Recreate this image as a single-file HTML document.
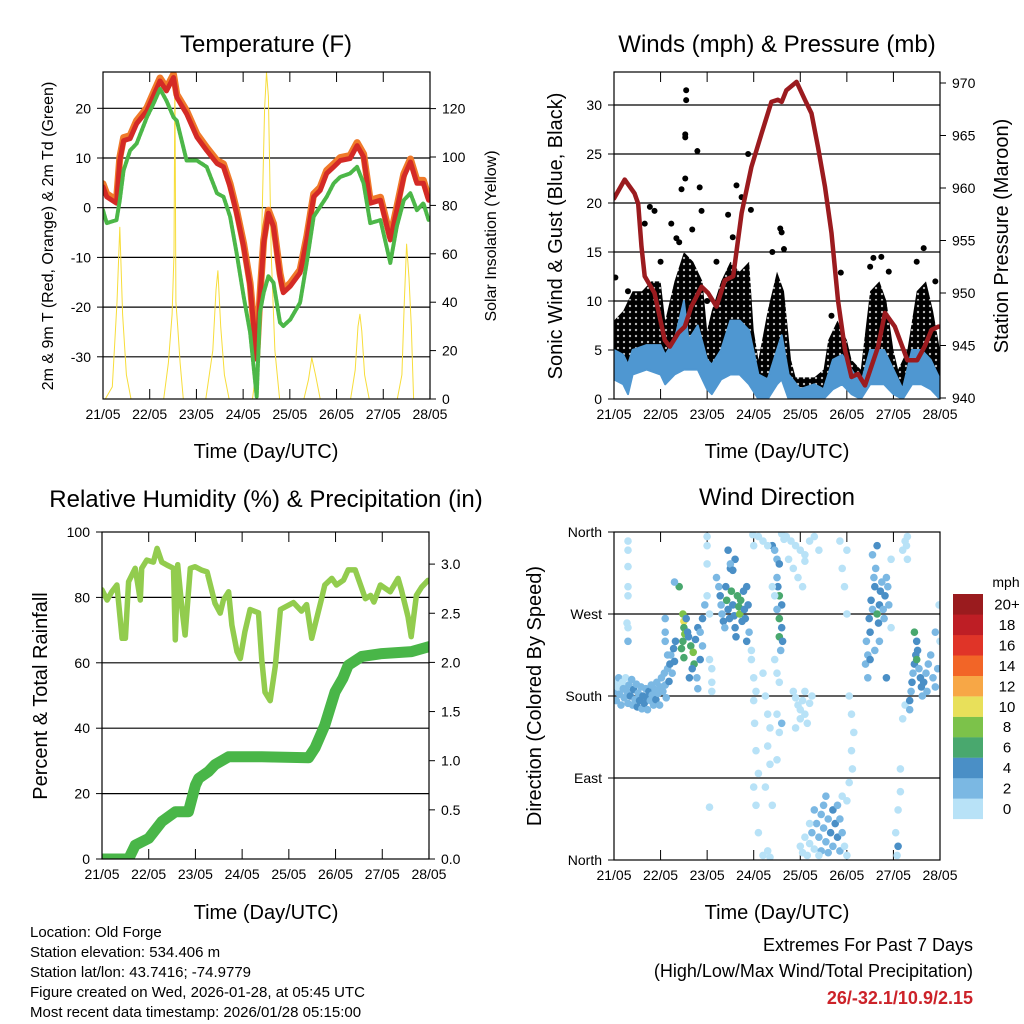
<!DOCTYPE html>
<html><head><meta charset="utf-8">
<style>
html,body{margin:0;padding:0;background:#fff;}
svg{display:block;font-family:"Liberation Sans",Arial,sans-serif;}
</style></head>
<body>
<svg id="chart" width="1024" height="1024" viewBox="0 0 1024 1024" xmlns="http://www.w3.org/2000/svg">
<defs>
<clipPath id="c1"><rect x="103" y="72" width="327" height="327"/></clipPath>
<clipPath id="c2"><rect x="614" y="72" width="326" height="327"/></clipPath>
<clipPath id="c3"><rect x="102" y="532" width="327" height="327"/></clipPath>
<clipPath id="c4"><rect x="614" y="532" width="326" height="328"/></clipPath>
<pattern id="dotfill" width="6" height="6" patternUnits="userSpaceOnUse"><circle cx="3" cy="3" r="3.4" fill="#000"/></pattern>
</defs>
<rect width="1024" height="1024" fill="#fff"/>
<g font-size="24" text-anchor="middle" fill="#000">
<text x="266" y="52">Temperature (F)</text>
<text x="777" y="52">Winds (mph) &amp; Pressure (mb)</text>
<text x="266" y="507">Relative Humidity (%) &amp; Precipitation (in)</text>
<text x="777" y="505">Wind Direction</text>
</g>
<g font-size="20" text-anchor="middle">
<text x="266" y="458">Time (Day/UTC)</text>
<text x="777" y="458">Time (Day/UTC)</text>
<text x="266" y="919">Time (Day/UTC)</text>
<text x="777" y="919">Time (Day/UTC)</text>
<text transform="translate(53,236) rotate(-90)" font-size="16">2m &amp; 9m T (Red, Orange) &amp; 2m Td (Green)</text>
<text transform="translate(496,236) rotate(-90)" font-size="16">Solar Insolation (Yellow)</text>
<text transform="translate(562,236) rotate(-90)">Sonic Wind &amp; Gust (Blue, Black)</text>
<text transform="translate(1008,236) rotate(-90)">Station Pressure (Maroon)</text>
<text transform="translate(47,696) rotate(-90)">Percent &amp; Total Rainfall</text>
<text transform="translate(541,696) rotate(-90)">Direction (Colored By Speed)</text>
</g>
<g font-size="15">
<text x="30" y="937">Location: Old Forge</text>
<text x="30" y="957">Station elevation: 534.406 m</text>
<text x="30" y="977">Station lat/lon: 43.7416; -74.9779</text>
<text x="30" y="997">Figure created on Wed, 2026-01-28, at 05:45 UTC</text>
<text x="30" y="1017">Most recent data timestamp: 2026/01/28 05:15:00</text>
</g>
<g font-size="18" text-anchor="end">
<text x="973" y="951">Extremes For Past 7 Days</text>
<text x="973" y="977">(High/Low/Max Wind/Total Precipitation)</text>
<text x="973" y="1004" fill="#cc2229" font-weight="bold">26/-32.1/10.9/2.15</text>
</g>
<g id="dyn"></g>
</svg>
<script>
// ---- data ----
const tempTimes=[0,0.08,0.29,0.36,0.44,0.58,0.72,0.94,1.08,1.22,1.36,1.51,1.58,1.79,2.01,2.22,2.44,2.58,2.72,2.86,3.01,3.15,3.29,3.36,3.44,3.54,3.65,3.79,3.86,4.01,4.22,4.36,4.51,4.65,4.79,4.94,5.08,5.29,5.44,5.58,5.72,5.94,6.15,6.29,6.44,6.58,6.72,6.86,6.97];
const tempRed=[4.2,2.2,0.9,9.5,13.5,13.9,16.9,19.5,22.5,25.5,23.5,26.2,22.2,18.9,14.2,11.5,8.9,8.2,4.2,-1.1,-7.8,-15.8,-30.5,-18.5,-7.1,-1.1,-3.8,-13.8,-17.1,-15.8,-13.1,-6.5,2.2,3.5,6.9,8.2,9.5,9.9,12.5,10.2,0.9,1.5,-6.5,-0.5,6.2,9.2,4.9,4.9,1.5];
const tempDew=[-0.5,-3.1,-2.5,1.5,7.5,11.5,12.9,18.2,20.9,23.9,21.5,18.2,17.5,9.5,9.5,8.2,2.9,2.2,-1.8,-9.1,-17.8,-25.1,-38,-21.1,-17.1,-13.8,-15.1,-23.1,-23.8,-22.5,-19.1,-11.1,-1.8,0.2,2.2,4.9,6.2,6.9,8.2,4.9,-3.1,-2.5,-11.1,-3.8,1.5,2.9,-0.5,0.9,-2.5];
const solarTimes=[0,0.05,0.2,0.3,0.36,0.42,0.5,0.6,1.3,1.4,1.48,1.52,1.54,1.56,1.6,1.65,1.72,2.2,2.35,2.42,2.46,2.52,2.6,2.7,3.2,3.33,3.4,3.46,3.5,3.54,3.6,3.68,3.78,4.3,4.4,4.47,4.55,4.65,5.3,5.4,5.46,5.5,5.54,5.6,5.7,6.3,6.4,6.45,6.5,6.55,6.6,6.65,7];
const solarVals=[0,0,5,40,71,35,10,0,0,15,35,60,135,40,30,15,0,0,20,45,53,30,10,0,0,20,70,120,135,125,60,20,0,0,8,17,10,0,0,12,30,35,28,10,0,0,10,40,64,50,30,0,0];
const presTimes=[0,0.23,0.44,0.52,0.59,0.66,0.87,1.09,1.2,1.38,1.52,1.66,1.88,2.02,2.2,2.38,2.56,2.74,2.95,3.17,3.38,3.52,3.6,3.7,3.92,4.1,4.24,4.38,4.53,4.67,4.81,4.96,5.1,5.24,5.39,5.67,5.82,6.03,6.3,6.51,6.67,6.82,6.97,7.0];
const presVals=[959.0,960.8,959.5,958.5,954.4,951.6,950.0,945.5,944.9,946.2,946.8,948.7,950.6,950.0,948.7,951.2,951.6,957.6,962.0,965.2,968.2,968.4,968.2,969.3,970.1,968.4,967.1,963.9,960.1,955.7,949.3,944.6,942.0,942.3,941.2,944.9,948.1,946.8,943.6,943.6,944.9,946.5,946.8,946.8];
const windTimes=[0,0.2,0.3,0.4,0.7,1.0,1.1,1.3,1.5,1.6,1.8,2.0,2.1,2.3,2.5,2.7,2.9,3.1,3.3,3.5,3.6,3.75,4.0,4.3,4.5,4.7,4.9,5.1,5.3,5.5,5.8,6.0,6.2,6.4,6.6,6.8,7.0];
const windHi=[5,4.5,3.5,5,5.5,5.5,4.5,6,10,6,7.5,4,3.5,5,8,8,7,2.5,2,5,6.5,2.5,1,1.5,1,4,4.5,3,1.5,5,5,3,1,5,5,4,2];
const windLo=[2,1.5,0.5,2.5,3,2.5,1.5,2.5,3,3,3,1,0.5,2,2.5,2.5,1.5,0,0,1.5,2,0,0,0,0,1,1.5,0.5,0,1.5,1.5,0.5,0,1.5,1.5,1,0];
const gustTimes=[0,0.2,0.4,0.6,0.8,1.0,1.1,1.3,1.5,1.7,1.9,2.0,2.1,2.3,2.5,2.7,2.9,3.0,3.1,3.3,3.5,3.65,3.8,3.9,4.1,4.3,4.5,4.6,4.8,5.0,5.1,5.3,5.5,5.7,5.85,6.0,6.1,6.3,6.5,6.7,6.85,7.0];
const gustHi=[8,9,11,11,12,12,8,12,15,14,12,7,9,12,14,13,14,7,4,9,13,11,4,2.2,2.2,2.2,3,6,8,6,4,3,11,12,10,5,3,5,11,12,9,5];
const gustLo=[2,2,3,3,3,3,1.5,3,3,4,3,1.5,0.5,3,4,4,3,1,0.5,1.5,3,3,1,1.2,1.2,1.2,1,2.5,3,2,1,1,3,4,3,1,1,1,4,4,2,1];
const outlierDays=[1.55,1.55,1.53,1.53,1.79,2.88,2.63,1.84,1.53,1.45,0.77,0.87,1.23,2.74,2.94,3.57,3.6,3.65,2.45,6.65,5.57,5.74,4.87,4.67,1.34,1.88,1.68,0.66,0.03,1.0,1.4,2.2,2.55,3.4,5.9,6.5,6.9,0.3,2.0,5.5];
const outlierGusts=[31.5,30.5,27,26.7,25.3,25,21.8,21.6,22.5,21.4,19.6,19.2,17.9,20.6,19.3,17.4,17,15.3,18.8,15.4,14.4,14.5,12.9,8.5,16.4,19.2,17.3,17.9,12.4,14,16,14,16.5,15,13,14,12,11,10,13.5];
const rhTimes=[0,0.11,0.21,0.32,0.43,0.5,0.57,0.71,0.82,0.85,0.96,1.1,1.18,1.28,1.39,1.53,1.57,1.62,1.71,1.78,1.89,1.99,2.14,2.25,2.42,2.53,2.6,2.71,2.78,2.89,2.96,3.06,3.17,3.35,3.42,3.49,3.6,3.71,3.82,4.1,4.27,4.38,4.49,4.7,4.77,4.92,5.02,5.17,5.27,5.42,5.64,5.75,5.82,5.96,6.17,6.34,6.41,6.55,6.62,6.73,6.84,6.98];
const rhVals=[82.3,79.2,81.7,83.8,67.5,67.5,84.8,88.9,79.2,88.9,91.4,90.8,95,90.8,89.9,88.9,67,90,76.7,68.5,88.9,89.4,88.3,87.8,78.2,75.2,79.2,81.7,71.5,63.4,61.3,69.5,76.3,75.3,61.2,51,48.4,59,76.3,78.4,75.8,77.8,67.5,79.5,83.8,85.8,83.8,85.3,88.4,88.4,79.6,80.6,78.6,83.8,81.7,85.8,82.3,74.1,68,80.6,83.1,85.2];
const rainTimes=[0,0.57,0.71,1.0,1.28,1.57,1.85,2.0,2.07,2.28,2.42,2.71,3.42,4.42,4.56,4.77,4.99,5.16,5.27,5.56,5.99,6.63,7.0];
const rainVals=[0,0,0.14,0.21,0.38,0.48,0.48,0.75,0.82,0.89,0.96,1.04,1.04,1.03,1.13,1.36,1.70,1.84,1.97,2.06,2.09,2.11,2.16];
const dirDays=[0,0.02,0.05,0.08,0.1,0.12,0.15,0.18,0.2,0.22,0.25,0.28,0.3,0.32,0.35,0.38,0.4,0.42,0.45,0.48,0.5,0.52,0.55,0.58,0.6,0.62,0.65,0.68,0.7,0.72,0.75,0.78,0.8,0.82,0.85,0.88,0.9,0.92,0.95,0.98,1.0,1.02,1.05,1.08,1.1,1.12,1.15,1.18,1.2,1.22,1.25,1.28,1.3,1.32,
0.3,0.3,0.3,0.3,0.3,0.3,0.3,0.28,
1.1,1.1,1.1,1.15,1.4,1.48,1.5,1.5,1.52,1.48,1.45,1.5,1.55,1.58,1.6,1.65,1.7,1.72,1.68,1.62,1.75,1.8,1.85,1.9,1.85,1.78,1.8,1.9,1.95,2.0,2.05,2.1,2.1,2.1,2.05,2.0,2.0,2.0,2.05,1.3,
2.2,2.25,2.28,2.3,2.32,2.35,2.38,2.4,2.42,2.45,2.48,2.5,2.52,2.55,2.58,2.6,2.62,2.65,2.68,2.7,2.72,2.75,2.78,2.8,2.82,2.85,2.88,2.6,2.5,2.45,2.55,2.9,2.85,2.95,2.95,3.0,3.05,3.0,2.98,
3.4,3.45,3.5,3.55,3.5,3.52,3.55,3.6,3.5,3.55,3.6,3.55,3.62,3.58,3.45,3.5,3.55,3.5,3.6,3.55,3.5,3.6,3.65,3.4,3.45,
3.1,3.2,3.3,3.7,3.8,3.9,4.0,4.1,3.85,3.95,4.05,4.1,4.2,4.3,4.4,3.75,
3.0,3.02,3.05,3.1,3.0,3.05,3.1,3.2,3.25,3.3,3.35,3.3,3.35,3.25,3.4,3.3,3.2,3.35,
3.85,3.9,3.95,4.0,4.05,4.1,4.15,4.2,4.25,4.0,3.9,4.1,
4.0,4.05,4.1,4.15,4.2,4.25,4.3,4.35,4.4,4.45,4.45,4.5,4.55,4.6,4.6,4.65,4.7,4.7,4.75,4.8,4.8,4.85,4.85,4.9,4.95,5.0,4.5,4.55,4.4,4.3,4.2,4.9,
5.05,5.1,5.15,5.1,5.12,5.05,5.0,4.95,4.9,5.0,4.85,5.0,
5.4,5.45,5.42,5.5,5.48,5.55,5.52,5.6,5.58,5.62,5.65,5.7,5.68,5.72,5.75,5.78,5.8,5.82,5.85,5.88,5.7,5.6,5.5,5.45,5.65,5.55,5.9,5.95,5.85,5.95,
6.05,6.1,6.1,6.08,6.15,6.15,6.2,6.25,6.2,6.25,6.3,6.3,6.28,
6.35,6.38,6.4,6.42,6.45,6.48,6.5,6.52,6.55,6.58,6.6,6.62,6.65,6.7,6.72,6.75,6.8,6.85,6.9,6.95,7.0,6.98,6.9,6.45,6.5,6.35];
const dirDegs=[185,195,175,190,200,182,170,195,188,178,200,185,172,192,180,198,170,187,176,193,168,183,175,190,166,180,172,188,178,165,185,175,192,181,170,187,176,195,183,170,190,200,185,205,192,178,210,196,215,225,205,232,218,240,
350,340,322,300,290,255,240,260,
265,250,240,225,300,270,262,255,248,240,232,222,265,250,245,235,228,215,210,200,242,255,250,235,220,200,188,265,280,290,270,210,195,185,220,355,345,325,58,305,
310,300,290,280,270,262,255,300,285,275,265,320,295,280,268,255,245,290,278,270,285,262,295,275,265,300,280,330,325,340,318,250,240,230,220,200,185,345,357,
345,340,330,325,310,300,290,280,275,265,255,245,240,230,220,205,195,160,150,140,110,358,352,300,290,
355,350,345,355,350,345,340,335,320,310,300,328,350,355,340,330,
175,150,120,95,80,60,30,205,180,160,145,125,105,80,60,10,5,3,
185,178,170,165,175,160,150,172,180,155,145,185,
15,8,25,5,18,30,12,40,25,50,10,35,20,45,8,30,55,15,40,25,60,10,45,30,15,5,60,70,5,55,40,70,
180,160,140,120,100,85,65,300,320,340,350,270,
215,225,240,250,265,275,285,300,310,320,270,280,260,295,305,275,265,290,310,300,240,230,220,200,345,335,280,255,200,330,
30,55,15,5,75,100,155,170,340,350,355,330,345,
175,185,195,205,215,225,240,230,210,200,190,180,195,205,185,215,225,200,190,210,240,280,250,250,220,165];
const dirSpeeds=[2,1,3,1,2,3,2,1,3,2,1,3,2,3,4,2,3,4,3,2,4,3,4,3,3,5,4,3,5,3,4,3,2,3,3,2,4,3,2,3,3,2,3,3,2,3,3,4,4,3,3,4,5,4,
0,0,1,0,1,1,2,1,
2,2,2,3,6,8,10,7,8,7,6,6,4,5,5,6,8,6,5,4,5,4,3,3,4,3,2,4,2,1,1,1,1,1,1,0,0,1,1,3,
3,3,4,3,3,4,3,4,6,4,4,4,6,4,5,4,4,7,6,8,6,4,4,4,4,4,5,4,3,4,4,3,4,1,1,1,1,1,0,
4,3,3,4,3,4,6,4,3,6,5,6,4,3,1,1,1,1,3,1,1,1,0,1,1,
0,0,1,0,0,0,1,0,0,0,0,0,0,0,0,0,
0,0,1,0,1,0,1,1,0,1,1,0,0,0,0,0,1,0,
0,0,1,1,0,1,0,0,1,0,0,0,
0,0,1,0,1,2,1,2,2,3,2,2,3,3,2,4,4,3,4,4,3,3,2,2,1,1,3,3,1,2,1,1,
0,0,1,0,0,0,0,0,0,0,0,1,
2,3,3,4,4,3,4,4,3,3,6,4,4,4,3,3,3,4,2,3,3,3,4,3,4,3,2,1,4,1,
1,0,4,1,0,0,0,1,0,0,0,1,0,
4,3,4,3,4,5,5,4,3,4,4,3,4,3,3,2,2,2,3,2,1,0,2,6,6,3];
const tempYTicks=[-30,-20,-10,0,10,20];
const solarTicks=[0,20,40,60,80,100,120];
const windTicks=[0,5,10,15,20,25,30];
const presTicks=[940,945,950,955,960,965,970];
const rhTicks=[0,20,40,60,80,100];
const rainTicks=[0,0.5,1,1.5,2,2.5,3];
const dirTickVals=[0,90,180,270,360];
const dirTickLabels=['North','East','South','West','North'];
const dayLabels=['21/05','22/05','23/05','24/05','25/05','26/05','27/05','28/05'];
const speedLabels=['0','2','4','6','8','10','12','14','16','18','20+'];
const speedColors=['#b8e2f7','#7bb8e3','#4a8fc6','#49a86e','#7cc24a','#e8e05a','#f7a746','#f26527','#e03428','#be1e25','#9a1b1e'];

// ---- axes ----
const p1x=d=>103+d*46.71, p1y=v=>207.7-v*4.97, p1s=v=>399-v*2.42;
const p2x=d=>614+d*46.57, p2y=v=>399-v*9.8, p2p=p=>398-(p-940)*10.5;
const p3x=d=>102+d*46.71, p3y=v=>859-v*3.27, p3r=r=>859-r*98.3;
const p4x=p2x, p4y=a=>860-a*(328/360);

const NS='http://www.w3.org/2000/svg';
const root=document.getElementById('dyn');
function el(tag,parent){const e=document.createElementNS(NS,tag);(parent||root).appendChild(e);return e;}
function pts(xs,ys,fx,fy){return xs.map((t,i)=>fx(t).toFixed(1)+','+fy(ys[i]).toFixed(1)).join(' ');}

function frame(x0,y0,x1,y1,fx,name,yTicks,fy,yLabels,ry,rTicks,rLabels){
  const g=el('g');
  
  
  yTicks.forEach((v,i)=>{
    const y=fy(v);
    if(y>y0+1&&y<y1-1){
      const l=el('line',g);
      
      
      l.setAttribute('x1',x0);l.setAttribute('x2',x1);l.setAttribute('y1',y);l.setAttribute('y2',y);
      l.setAttribute('stroke','#000');l.setAttribute('stroke-width','1.2');
    }
    const tk=el('line',g);
    
    
    tk.setAttribute('x1',x0-6);tk.setAttribute('x2',x0);tk.setAttribute('y1',y);tk.setAttribute('y2',y);tk.setAttribute('stroke','#000');
    const t=el('text',g);
    
    
    t.setAttribute('x',x0-12);t.setAttribute('y',y+5);t.setAttribute('text-anchor','end');t.setAttribute('font-size','14');
    t.textContent=yLabels[i];
  });
  if(rTicks){rTicks.forEach((v,i)=>{
    const y=ry(v);
    const tk=el('line',g);
    
    
    tk.setAttribute('x1',x1);tk.setAttribute('x2',x1+6);tk.setAttribute('y1',y);tk.setAttribute('y2',y);tk.setAttribute('stroke','#000');
    const t=el('text',g);
    
    
    t.setAttribute('x',x1+12);t.setAttribute('y',y+5);t.setAttribute('font-size','14');
    t.textContent=rLabels[i];
  });}
  dayLabels.forEach((lab,i)=>{
    const x=fx(i);
    [[y1,y1-10],[y0,y0+10]].forEach(p=>{
      const tk=el('line',g);
      
      
      tk.setAttribute('x1',x);tk.setAttribute('x2',x);tk.setAttribute('y1',p[0]);tk.setAttribute('y2',p[1]);tk.setAttribute('stroke','#000');
    });
    const t=el('text',g);
    
    
    t.setAttribute('x',x);t.setAttribute('y',y1+20);t.setAttribute('text-anchor','middle');t.setAttribute('font-size','14');
    t.textContent=lab;
  });
  return g;
}
function box(x0,y0,x1,y1,name){
  const r=el('rect');
  
  
  r.setAttribute('x',x0);r.setAttribute('y',y0);r.setAttribute('width',x1-x0);r.setAttribute('height',y1-y0);
  r.setAttribute('fill','none');r.setAttribute('stroke','#000');r.setAttribute('stroke-width','1.2');
}
function line(xs,ys,fx,fy,color,w,clip,name,dash){
  const p=el('polyline');
  
  
  p.setAttribute('points',pts(xs,ys,fx,fy));
  p.setAttribute('fill','none');p.setAttribute('stroke',color);p.setAttribute('stroke-width',w);
  p.setAttribute('stroke-linejoin','round');p.setAttribute('stroke-linecap','round');
  p.setAttribute('clip-path','url(#'+clip+')');
  if(dash)p.setAttribute('stroke-dasharray',dash);
  return p;
}
function band(xs,hi,lo,fx,fy,fill,stroke,clip,name){
  const a=xs.map((t,i)=>fx(t).toFixed(1)+','+fy(hi[i]).toFixed(1));
  const b=xs.map((t,i)=>fx(t).toFixed(1)+','+fy(lo[i]).toFixed(1)).reverse();
  const p=el('polygon');
  
  
  p.setAttribute('points',a.concat(b).join(' '));
  p.setAttribute('fill',fill);
  if(stroke){p.setAttribute('stroke',stroke);p.setAttribute('stroke-width','2');}
  p.setAttribute('stroke-linejoin','round');
  p.setAttribute('clip-path','url(#'+clip+')');
}

// ---- panel 1: temperature ----
frame(103,72,430,399,p1x,'temp',tempYTicks,p1y,tempYTicks.map(String),p1s,solarTicks,solarTicks.map(String));
line(solarTimes,solarVals,p1x,p1s,'#f7dd3a',1,'c1','solar-insolation-line');
line(tempTimes,tempRed.map(v=>v+0.6),p1x,p1y,'#f07a2a',7,'c1','temp-9m-orange-line');
line(tempTimes,tempRed,p1x,p1y,'#d42a26',5,'c1','temp-2m-red-line');
line(tempTimes,tempDew,p1x,p1y,'#4cb748',4,'c1','dewpoint-green-line','3 1.5');
box(103,72,430,399,'temp');

// ---- panel 2: winds ----
frame(614,72,940,399,p2x,'winds',windTicks,p2y,windTicks.map(String),p2p,presTicks,presTicks.map(String));
band(gustTimes,gustHi,gustLo,p2x,p2y,'url(#dotfill)',null,'c2','gust-point-cloud');
outlierDays.forEach((d,i)=>{
  const c=el('circle');
  
  
  c.setAttribute('cx',p2x(d));c.setAttribute('cy',p2y(outlierGusts[i]));c.setAttribute('r','3');c.setAttribute('fill','#000');
  c.setAttribute('clip-path','url(#c2)');
});
band(windTimes,windHi,windLo,p2x,p2y,'#4f97d1','#4f97d1','c2','sonic-wind-band');
line(presTimes,presVals,p2x,p2p,'#9b1b1f',4.5,'c2','pressure-line');
box(614,72,940,399,'winds');

// ---- panel 3: RH & precip ----
frame(102,532,429,859,p3x,'rh',rhTicks,p3y,rhTicks.map(String),p3r,rainTicks,rainTicks.map(v=>v.toFixed(1)));
line(rhTimes,rhVals,p3x,p3y,'#92cc4e',5.5,'c3','relative-humidity-line');
line(rainTimes,rainVals,p3x,p3r,'#49b648',11,'c3','total-rainfall-line');
box(102,532,429,859,'rh');

// ---- panel 4: wind direction ----
frame(614,532,940,860,p4x,'dir',dirTickVals,p4y,dirTickLabels);
dirDays.forEach((d,i)=>{
  const c=el('circle');
  
  
  const idx=Math.min(10,Math.floor(dirSpeeds[i]/2));
  c.setAttribute('cx',p4x(d).toFixed(1));c.setAttribute('cy',p4y(dirDegs[i]).toFixed(1));c.setAttribute('r','3.8');
  c.setAttribute('fill',speedColors[idx]);
  c.setAttribute('clip-path','url(#c4)');
});
box(614,532,940,860,'dir');

// colorbar
const cb=el('g');


const unit=el('text',cb);


unit.setAttribute('x','1006');unit.setAttribute('y','587');unit.setAttribute('text-anchor','middle');unit.setAttribute('font-size','14');
unit.textContent='mph';
speedLabels.forEach((lab,i)=>{
  const k=10-i;
  const y=594+k*20.45;
  const r=el('rect',cb);
  
  
  r.setAttribute('x','953');r.setAttribute('y',y.toFixed(1));r.setAttribute('width','30');r.setAttribute('height','20.6');r.setAttribute('fill',speedColors[i]);
  const t=el('text',cb);
  
  
  t.setAttribute('x','1007');t.setAttribute('y',(y+15.5).toFixed(1));t.setAttribute('text-anchor','middle');t.setAttribute('font-size','15');
  t.textContent=lab;
});
</script>
</body></html>
